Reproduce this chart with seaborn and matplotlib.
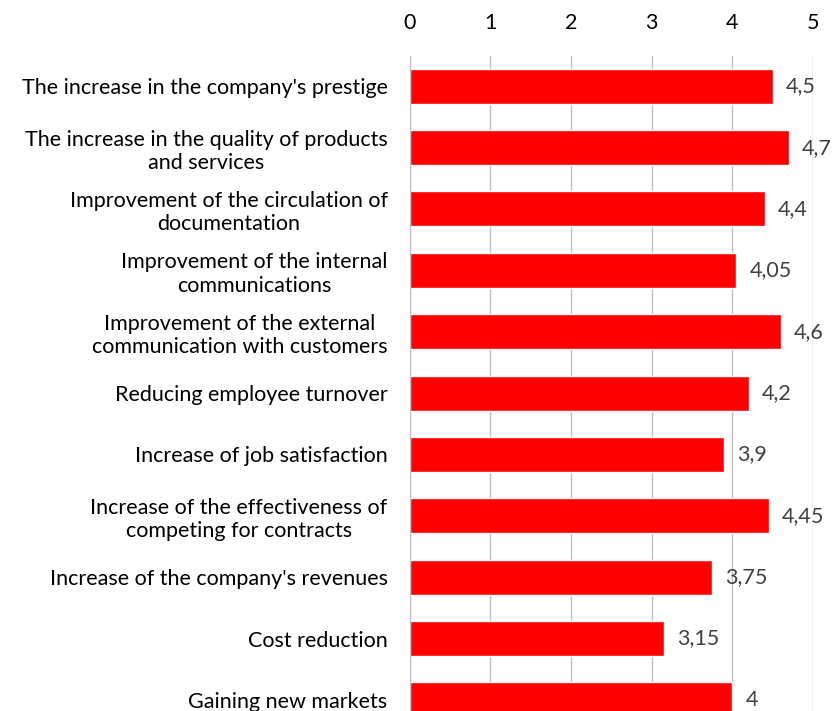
import pandas as pd
import seaborn as sns
import matplotlib.pyplot as plt

# categories and mean scores
categorias = [
    "The increase in the company's prestige",
    "The increase in the quality of products\nand services",
    "Improvement of the circulation of\ndocumentation",
    "Improvement of the internal\ncommunications",
    "Improvement of the external\ncommunication with customers",
    "Reducing employee turnover",
    "Increase of job satisfaction",
    "Increase of the effectiveness of\ncompeting for contracts",
    "Increase of the company's revenues",
    "Cost reduction",
    "Gaining new markets",
]
valores = [4.5, 4.7, 4.4, 4.05, 4.6, 4.2, 3.9, 4.45, 3.75, 3.15, 4.0]
rotulos = ["4,5", "4,7", "4,4", "4,05", "4,6", "4,2", "3,9", "4,45", "3,75", "3,15", "4"]

tabela = pd.DataFrame({"categoria": categorias, "valor": valores})

sns.set_style("white")
plt.rcParams["font.family"] = ["Lato", "DejaVu Sans"]

fig = plt.figure(figsize=(8.33, 7.11), dpi=100)
ax = fig.add_axes([0.492, 0.0, 0.484, 0.921])

sns.barplot(data=tabela, x="valor", y="categoria", color="#ff0000",
            saturation=1, width=0.57, orient="h", ax=ax)

# rotulos de valor ao lado das barras
for i, (v, r) in enumerate(zip(valores, rotulos)):
    ax.text(v + 0.16, i, r, va="center", ha="left", fontsize=15.5, color="#404040")

ax.set_xlim(0, 5)
ax.set_ylim(10.18, -0.49)
ax.set_xticks(range(6))
ax.xaxis.tick_top()
ax.grid(axis="x", color="#bfbfbf", linewidth=1)
ax.set_axisbelow(True)
for s in ["top", "right", "bottom"]:
    ax.spines[s].set_visible(False)
ax.spines["left"].set_color("#bfbfbf")
ax.tick_params(axis="both", length=0, labelsize=15.5, labelcolor="#000000")
ax.tick_params(axis="x", pad=17)
ax.tick_params(axis="y", pad=16)
for t in ax.get_yticklabels():
    t.set_multialignment("center")
    t.set_linespacing(1.2)
ax.set_xlabel("")
ax.set_ylabel("")

fig.savefig("out.png", dpi=100)
